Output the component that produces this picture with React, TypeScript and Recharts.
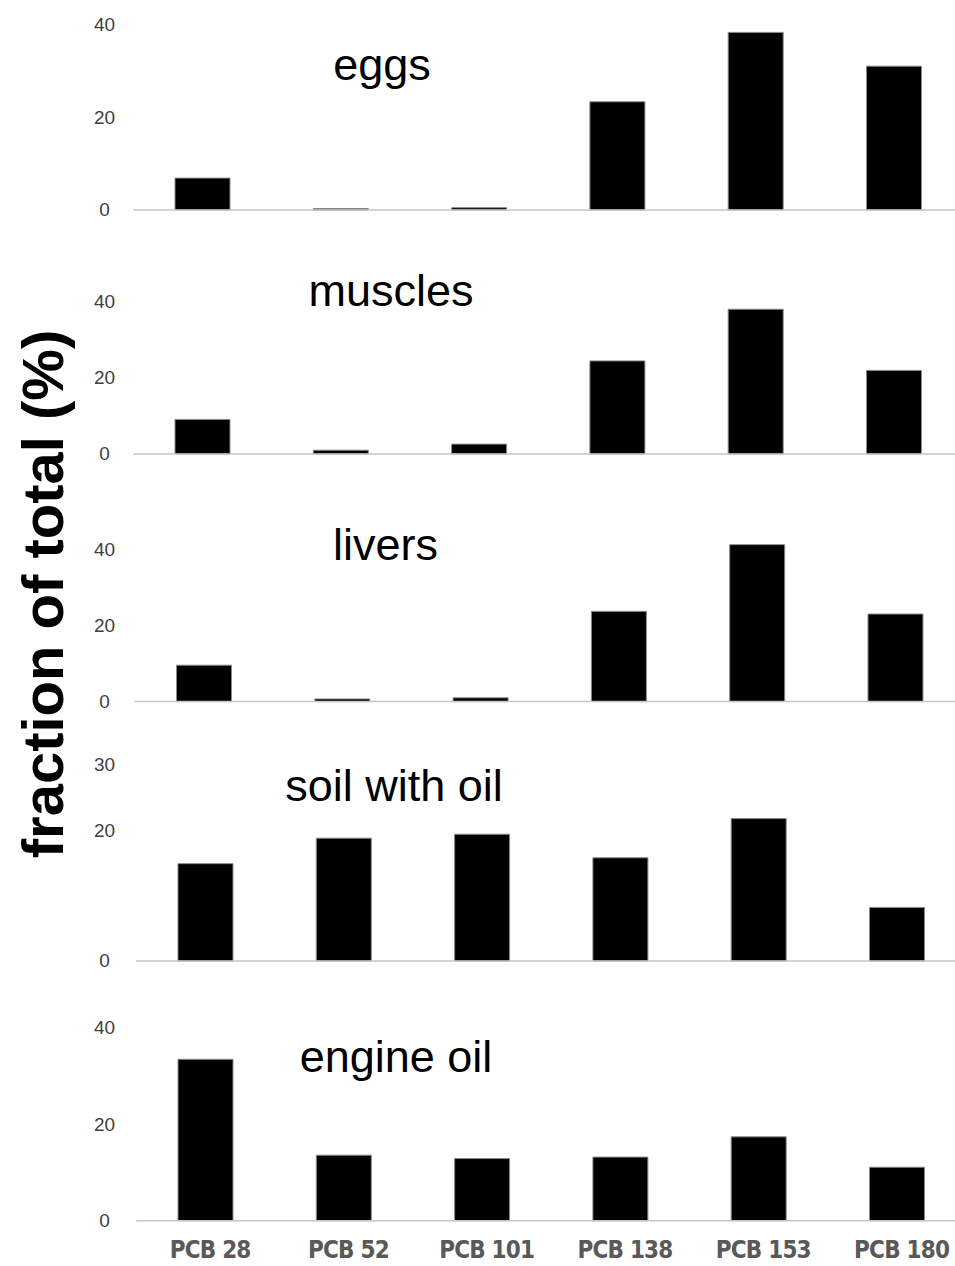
import React from 'react';
import { BarChart, Bar, XAxis, YAxis } from 'recharts';

// PCB congener profiles, % of total
const CATEGORIES = ['PCB 28', 'PCB 52', 'PCB 101', 'PCB 138', 'PCB 153', 'PCB 180'];
const EGGS = [6.9, 0.3, 0.5, 23.4, 38.4, 31.1];
const MUSCLES = [9.1, 1.0, 2.6, 24.5, 38.1, 22.0];
const LIVERS = [9.6, 0.7, 1.0, 23.8, 41.4, 23.1];
const SOIL_WITH_OIL = [14.9, 18.8, 19.4, 15.8, 21.8, 8.2];
const ENGINE_OIL = [33.5, 13.6, 12.9, 13.2, 17.4, 11.1];

const TICKS_40 = [0, 20, 40];
const TICKS_30 = [0, 20, 30];

const BAND = 138.3;
const PAD = 12;

// layout of each panel (pixels on the page)
const panels = [
  { title: 'eggs', values: EGGS, max: 40, ticks: TICKS_40, left: 133, top: 25, zero: 210, tx: 382, ty: 80 },
  { title: 'muscles', values: MUSCLES, max: 40, ticks: TICKS_40, left: 133, top: 302, zero: 454, tx: 391, ty: 306 },
  { title: 'livers', values: LIVERS, max: 45, ticks: TICKS_40, left: 134.5, top: 531.4, zero: 702, tx: 385.5, ty: 560 },
  { title: 'soil with oil', values: SOIL_WITH_OIL, max: 30, ticks: TICKS_30, left: 136, top: 764.7, zero: 960.7, tx: 394, ty: 801 },
  { title: 'engine oil', values: ENGINE_OIL, max: 40, ticks: TICKS_40, left: 136, top: 1028, zero: 1220.7, tx: 396, ty: 1072 },
];

const YTick = (props: any) => {
  const { y, payload } = props;
  return (
    <text x={104.5} y={y} textAnchor="middle" dominantBaseline="central"
      fill="#404040" fontSize={19} fontFamily="'Liberation Sans', Arial, sans-serif">
      {payload.value}
    </text>
  );
};

const XTick = (props: any) => {
  const { x, y, payload } = props;
  return (
    <text x={x + 5} y={y} dy="0.72em" textAnchor="middle" fill="#595959" fontSize={24} fontWeight="bold"
      letterSpacing={-0.8}
      fontFamily="'Liberation Sans Narrow', 'DejaVu Sans Condensed', 'Open Sans', sans-serif">
      {payload.value}
    </text>
  );
};

const Panel = ({ p, last }: { p: typeof panels[number]; last: boolean }) => {
  const data = CATEGORIES.map((name, i) => ({ name, value: p.values[i] }));
  const axisH = last ? 45 : 1;
  const bottom = last ? 0 : PAD;
  const plotH = p.zero - p.top;
  const width = p.left + BAND * 6;
  return (
    <div style={{ position: 'absolute', left: 0, top: p.top - PAD }}>
      <BarChart width={width} height={PAD + plotH + axisH + bottom} data={data}
        margin={{ top: PAD, right: 0, bottom, left: 0 }} barSize={55}>
        <XAxis dataKey="name" height={axisH} axisLine={{ stroke: '#c6c6c6', strokeWidth: 1.5 }}
          tickLine={false} tickSize={0} tickMargin={20} interval={0}
          tick={last ? <XTick /> : false} />
        <YAxis type="number" domain={[0, p.max]} ticks={p.ticks} width={p.left}
          axisLine={false} tickLine={false} tick={<YTick />} />
        <Bar dataKey="value" fill="#000000" stroke="#8a8a8a" strokeWidth={1} isAnimationActive={false} />
      </BarChart>
    </div>
  );
};

export default function App() {
  return (
    <div style={{ position: 'absolute', left: 0, top: 0, width: 955, height: 1266, overflow: 'hidden', background: '#fff' }}>
      {panels.map((p, i) => (
        <Panel key={p.title} p={p} last={i === panels.length - 1} />
      ))}
      <svg width={955} height={1266} style={{ position: 'absolute', left: 0, top: 0, pointerEvents: 'none' }}>
        {panels.map((p) => (
          <text key={p.title} x={p.tx} y={p.ty} textAnchor="middle" fontSize={45} fill="#000"
            fontFamily="'Liberation Sans', Arial, sans-serif">
            {p.title}
          </text>
        ))}
        <text transform="translate(42,594) rotate(-90)" textAnchor="middle" dominantBaseline="central"
          fontSize={58} fontWeight="bold" fill="#000" fontFamily="'Liberation Sans', Arial, sans-serif">
          fraction of total (%)
        </text>
      </svg>
    </div>
  );
}
